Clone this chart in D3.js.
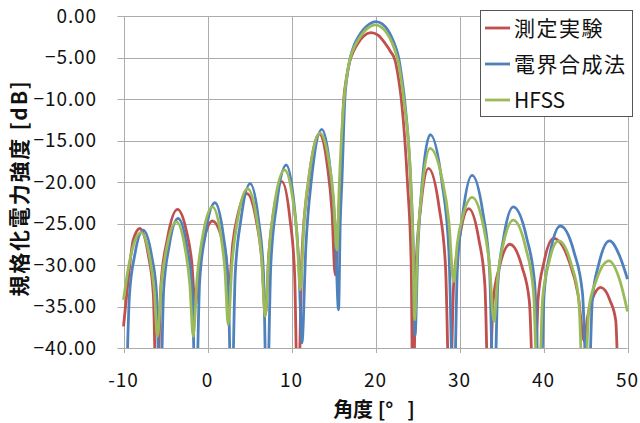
<!DOCTYPE html>
<html><head><meta charset="utf-8">
<script src="https://cdn.jsdelivr.net/npm/d3@7"></script>
<style>
html,body{margin:0;padding:0;background:#fff;}
svg{display:block;font-family:"Noto Sans CJK JP","Noto Sans",sans-serif;}
</style></head>
<body>
<svg id="chart" width="640" height="423"></svg>
<script>
// ---- data ----
const seriesNames = ["測定実験", "電界合成法", "HFSS"];
const seriesColors = ["#C0504D", "#4F81BD", "#9BBB59"];
const xTicks = [-10, 0, 10, 20, 30, 40, 50];
const yTicks = [0, -5, -10, -15, -20, -25, -30, -35, -40];

const redAngle = [-10,-9.44,-8.85,-8.05,-7.05,-6.45,-6.05,-5.55,-4.81,-3.57,-2.51,-1.87,-1.45,-1.04,-0.43,0.6,1.59,2.18,2.58,3.0,3.64,4.69,5.8,6.47,6.9,7.29,7.88,8.86,9.81,10.37,10.75,11.26,12.03,13.3,14.25,14.82,15.2,15.55,15.8,16.2,16.55,16.9,17.4,17.9,18.6,19.45,20.3,21.15,21.8,22.35,22.75,23.1,23.8,24.25,24.45,24.82,25.38,26.3,27.58,28.34,28.85,29.3,29.98,31.1,32.3,33.02,33.5,34.0,34.75,36.0,37.45,38.32,38.9,39.36,40.05,41.2,43.03,44.12,44.85,45.24,45.83,46.8,47.93,48.6,49.05,50];
const redDb = [-37.4,-31.8,-27.0,-25.6,-28.8,-33.5,-48,-32.5,-27.0,-23.3,-25.9,-29.7,-35,-30.4,-27.0,-24.7,-26.4,-28.9,-32.4,-27.45,-23.8,-21.4,-24.6,-29.4,-36,-28.8,-23.5,-19.96,-24.4,-31.0,-48,-28.4,-19.9,-14.2,-17.9,-23.6,-31.2,-25,-20,-10.3,-7.4,-5.6,-4.2,-3.3,-2.4,-2.0,-2.3,-3.3,-4.3,-5.4,-7.6,-10.3,-20,-30,-48,-30.25,-23.1,-18.35,-23.1,-30.25,-48,-32.4,-26.9,-23.2,-26.9,-32.4,-48,-34.4,-30.25,-27.5,-30.25,-34.4,-48,-34.06,-29.7,-26.8,-29.5,-33.6,-39.2,-36.3,-34.1,-32.7,-34.3,-36.7,-48,-50];

const blueAngle = [-10,-9.72,-9.29,-8.68,-7.65,-6.65,-6.05,-5.65,-5.22,-4.58,-3.5,-2.45,-1.82,-1.4,-0.94,-0.26,0.88,1.87,2.46,2.86,3.3,3.97,5.08,6.08,6.67,7.07,7.53,8.22,9.37,10.31,10.87,11.24,11.71,12.42,13.6,14.6,15.2,15.6,15.8,16.0,16.35,16.65,17.0,17.5,18.0,18.6,19.3,20.05,20.8,21.5,22.1,22.45,22.75,23.1,23.45,24.2,24.5,24.7,25.06,25.6,26.51,27.9,28.74,29.3,29.74,30.4,31.5,32.8,33.58,34.1,34.56,35.25,36.4,38.0,38.96,39.6,40.08,40.8,42.0,43.65,44.64,45.3,45.81,46.58,47.86,49.1,50];
const blueDb = [-60,-48,-33.6,-28.9,-25.8,-28.9,-33.6,-48,-33.0,-27.8,-24.4,-27.8,-33.0,-48,-32.1,-26.35,-22.5,-26.35,-32.1,-48,-31.1,-24.6,-20.2,-24.6,-31.1,-48,-30.1,-22.8,-17.95,-22.7,-29.75,-39.4,-27.8,-19.3,-13.65,-18.4,-25.6,-35.4,-25,-20,-10,-7.0,-5,-3.4,-2.45,-1.6,-0.95,-0.68,-0.95,-1.75,-2.95,-3.9,-5,-7.2,-10,-20,-28,-38.5,-27.6,-19.6,-14.3,-19.95,-28.4,-48,-30.6,-23.8,-19.2,-23.8,-30.6,-48,-32.35,-26.75,-23.0,-26.75,-32.35,-48,-33.4,-28.5,-25.3,-28.5,-33.4,-48,-34.2,-29.9,-27.1,-29.0,-31.7];

const greenAngle = [-10,-9.5,-9.0,-7.9,-6.93,-6.34,-5.95,-5.5,-4.83,-3.7,-2.7,-2.1,-1.7,-1.24,-0.55,0.6,1.53,2.09,2.46,2.92,3.61,4.76,5.82,6.45,6.87,7.33,8.02,9.17,10.1,10.66,11.04,11.51,12.22,13.4,14.4,15.0,15.4,15.7,16.25,16.6,16.95,17.5,18.0,18.6,19.3,19.96,20.7,21.4,22.0,22.4,22.7,23.05,23.4,24.2,24.45,24.65,25.02,25.58,26.5,27.9,28.74,29.3,29.74,30.4,31.5,32.8,33.58,34.1,34.56,35.25,36.4,37.9,38.8,39.4,39.88,40.6,41.8,43.3,44.2,44.8,45.4,46.3,47.8,49.1,50];
const greenDb = [-34.2,-30.8,-28.3,-26.1,-28.85,-33.0,-38.6,-32.4,-27.8,-24.8,-27.8,-32.4,-38.6,-31.6,-26.4,-23.0,-26.1,-30.8,-37.2,-29.8,-24.4,-20.8,-24.2,-29.3,-36.2,-28.3,-22.4,-18.55,-21.7,-26.5,-33.0,-24.5,-18.3,-14.1,-17.2,-21.9,-28.2,-20,-10,-7.2,-5.2,-3.7,-2.8,-1.95,-1.3,-1.08,-1.35,-2.15,-3.3,-4.4,-5.5,-7.6,-10.3,-20,-27,-36.6,-27.3,-20.5,-15.95,-19.5,-24.8,-32.0,-27.4,-24.1,-21.85,-25.1,-30.1,-36.8,-31.3,-27.3,-24.6,-28.0,-33.1,-48,-34.2,-29.9,-27.1,-29.9,-34.2,-48,-35.3,-31.8,-29.5,-31.9,-35.6];

// ---- chart ----
const svg = d3.select("#chart");
const plot = {left: 123.5, right: 627.5, top: 16, bottom: 348};
const x = d3.scaleLinear().domain([-10, 50]).range([plot.left, plot.right]);
const y = d3.scaleLinear().domain([-40, 0]).range([plot.bottom, plot.top]);
const gridColor = "#ABABAB";

// grid
const g = svg.append("g");
g.selectAll("line.hg").data(yTicks).join("line")
  .attr("x1", plot.left - 6).attr("x2", plot.right)
  .attr("y1", d => Math.round(y(d)) + 0.5).attr("y2", d => Math.round(y(d)) + 0.5)
  .attr("stroke", gridColor).attr("stroke-width", 1);
g.selectAll("line.vg").data(xTicks).join("line")
  .attr("y1", plot.top).attr("y2", plot.bottom + 5)
  .attr("x1", d => Math.round(x(d)) + 0.5).attr("x2", d => Math.round(x(d)) + 0.5)
  .attr("stroke", gridColor).attr("stroke-width", 1);

// tick labels
svg.append("g").selectAll("text").data(yTicks).join("text")
  .attr("x", 97).attr("y", d => y(d)).attr("dy", "0.35em")
  .attr("text-anchor", "end").attr("font-size", 19).attr("letter-spacing", 0.9)
  .attr("fill", "#111").text(d => d3.format(".2f")(d));
svg.append("g").selectAll("text").data(xTicks).join("text")
  .attr("x", d => x(d)).attr("y", 380).attr("dy", "0.35em")
  .attr("text-anchor", "middle").attr("font-size", 19).attr("letter-spacing", 0.9)
  .attr("fill", "#111").text(d => d);

// axis titles
const xt = svg.append("text").attr("x", 374).attr("y", 410).attr("dy", "0.35em")
  .attr("text-anchor", "middle").attr("font-size", 20).attr("font-weight", "bold").attr("fill", "#111");
xt.append("tspan").text("角度 [°");
xt.append("tspan").attr("dx", 14).text("]");
svg.append("text")
  .attr("transform", "translate(20,188) rotate(-90)")
  .attr("text-anchor", "middle").attr("dy", "0.35em")
  .attr("font-size", 21).attr("font-weight", "bold").attr("letter-spacing", 1.8).attr("fill", "#111")
  .text("規格化電力強度 [dB]");

// lines
svg.append("clipPath").attr("id", "clip").append("rect")
  .attr("x", plot.left - 2).attr("y", plot.top - 4)
  .attr("width", plot.right - plot.left + 4).attr("height", plot.bottom - plot.top + 4);
const line = d3.line().x(d => x(d[0])).y(d => y(d[1])).curve(d3.curveMonotoneX);
const series = [
  d3.zip(redAngle, redDb),
  d3.zip(blueAngle, blueDb),
  d3.zip(greenAngle, greenDb)
];
svg.append("g").attr("clip-path", "url(#clip)")
  .selectAll("path").data(series).join("path")
  .attr("d", line).attr("fill", "none")
  .attr("stroke", (d, i) => seriesColors[i]).attr("stroke-width", 2.8)
  .attr("stroke-linejoin", "round");

// legend
const lg = svg.append("g");
lg.append("rect").attr("x", 480.5).attr("y", 10.5).attr("width", 152).attr("height", 106)
  .attr("fill", "#fff").attr("stroke", "#555").attr("stroke-width", 1);
const rows = lg.selectAll("g.row").data(seriesNames).join("g")
  .attr("transform", (d, i) => `translate(0,${28 + i * 36})`);
rows.append("line").attr("x1", 485).attr("x2", 510).attr("y1", 0).attr("y2", 0)
  .attr("stroke", (d, i) => seriesColors[i]).attr("stroke-width", 2.8);
rows.append("text").attr("x", 514).attr("y", 0).attr("dy", "0.36em")
  .attr("font-size", 21).attr("fill", "#111")
  .attr("letter-spacing", (d, i) => i < 2 ? 1.5 : 0)
  .text(d => d);
</script>
</body></html>
